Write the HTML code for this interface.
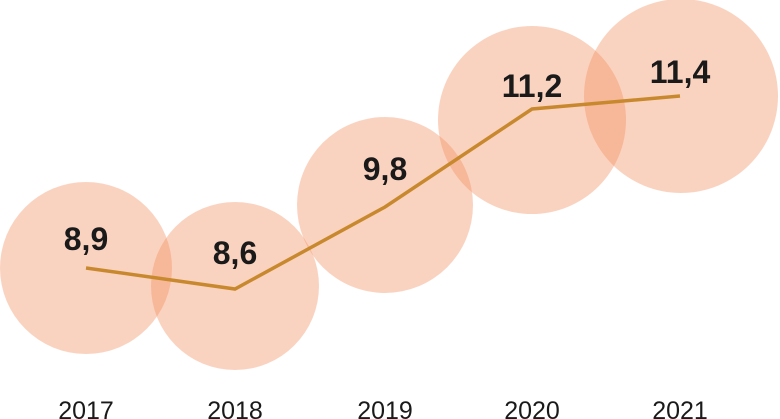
<!DOCTYPE html>
<html><head><style>
html,body{margin:0;padding:0;background:#fff;}
svg{display:block;}
</style></head><body>
<svg width="780" height="419" viewBox="0 0 780 419" xmlns="http://www.w3.org/2000/svg">
<g fill="rgb(242,142,94)" fill-opacity="0.39">
<circle cx="86" cy="268" r="86"/>
<circle cx="235" cy="286" r="84"/>
<circle cx="385" cy="205" r="88"/>
<circle cx="532" cy="120" r="94"/>
<circle cx="681" cy="96" r="97"/>
</g>
<polyline points="86,268 235,289 385,207 532,109 680,96" fill="none" stroke="#c8892e" stroke-width="3.5" stroke-linejoin="miter"/>
<g font-family="Liberation Sans, sans-serif" font-weight="bold" font-size="32" fill="#1a1a1a" text-anchor="middle">
<text x="86" y="250">8,9</text>
<text x="235" y="264">8,6</text>
<text x="385" y="180">9,8</text>
<text x="532" y="97">11,2</text>
<text x="680" y="83">11,4</text>
</g>
<g font-family="Liberation Sans, sans-serif" font-size="25" fill="#1a1a1a" text-anchor="middle">
<text x="86" y="419">2017</text>
<text x="235" y="419">2018</text>
<text x="385" y="419">2019</text>
<text x="532" y="419">2020</text>
<text x="680" y="419">2021</text>
</g>
</svg>
</body></html>
